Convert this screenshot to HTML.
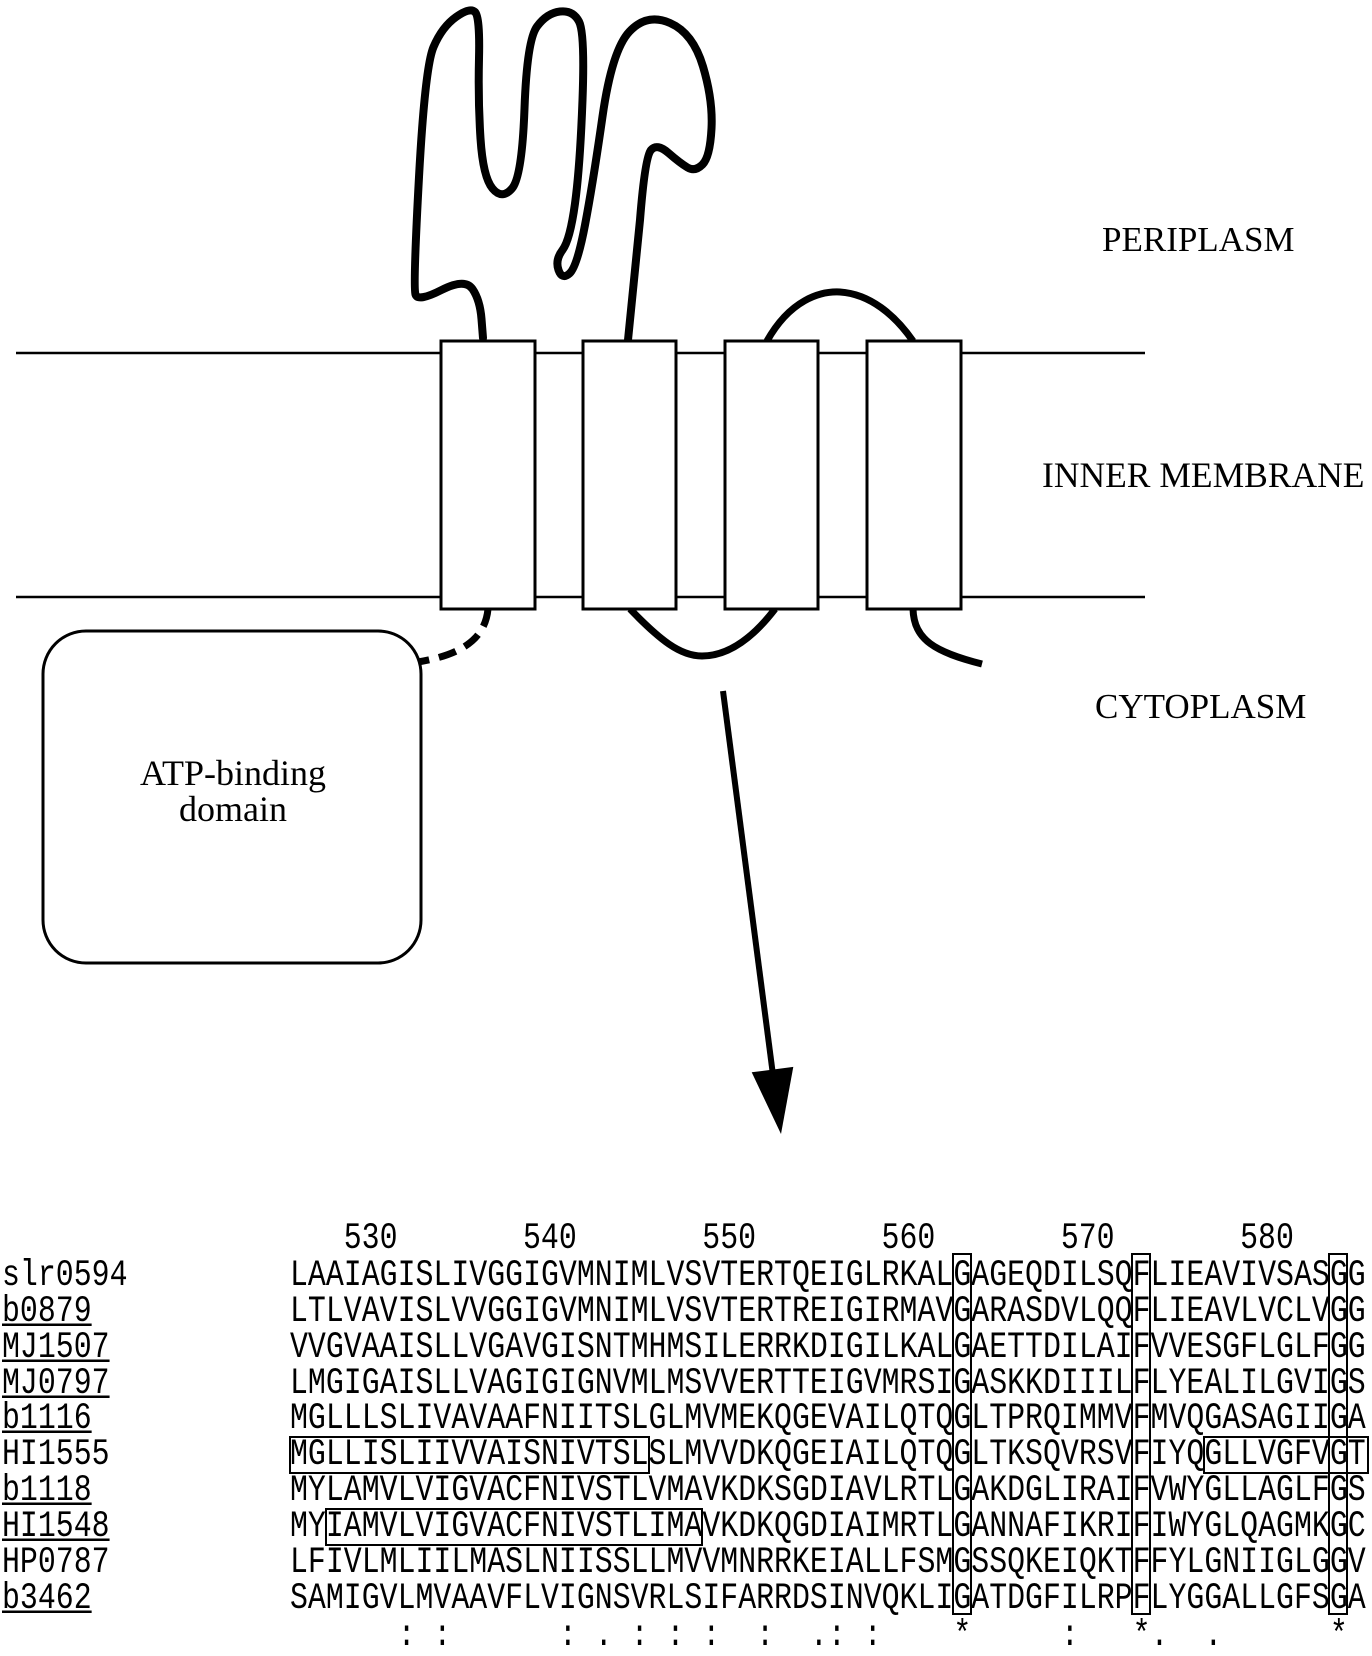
<!DOCTYPE html>
<html><head><meta charset="utf-8"><style>
html,body{margin:0;padding:0;background:#fff;}
#c{position:relative;width:1372px;height:1656px;overflow:hidden;background:#fff;}
.lbl{position:absolute;font-family:"Liberation Serif",serif;font-size:36px;color:#000;white-space:nowrap;}
.row{position:absolute;font-family:"Liberation Mono",monospace;font-size:29.88px;line-height:36px;height:36px;white-space:pre;color:#000;transform:scaleY(1.25);transform-origin:50% 50%;}
.u{text-decoration:underline;text-decoration-thickness:2px;text-underline-offset:2px;}
.bx{position:absolute;border:2.5px solid #000;box-sizing:border-box;}
</style></head><body><div id="c">
<svg width="1372" height="1656" style="position:absolute;left:0;top:0">
<g stroke="#000" fill="none">
<line x1="16" y1="353" x2="1145" y2="353" stroke-width="2.5"/>
<line x1="16" y1="597" x2="1145" y2="597" stroke-width="2.5"/>
<path stroke-width="8" stroke-linecap="round" stroke-linejoin="round" d="M483,338 L481.5,319 Q480,300 472.5,289 Q465,278 441.5,290 Q418,302 415.5,294.5 Q413,287 419,177 Q425,67 433.5,47 Q442,27 456,17 Q470,7 475,12 Q480,17 479,58.5 Q478,100 480.5,138.5 Q483,177 492.5,188.5 Q502,200 512,188.5 Q522,177 524.5,108.5 Q527,40 537,26.5 Q547,13 560,11.5 Q573,10 579,21.5 Q585,33 582.5,100 Q580,167 575,203.5 Q570,240 562.5,250 Q555,260 558.5,270 Q562,280 569.5,273.5 Q577,267 585,225 Q593,183 602.5,116.5 Q612,50 629.5,31.5 Q647,13 670,23 Q693,33 703,66.5 Q713,100 711.5,128.5 Q710,157 702.5,164.5 Q695,172 687.5,167.5 Q680,163 668.5,153 Q657,143 651,150 Q645,157 640,220 L628,340"/>
<path stroke-width="7" d="M767,341 C790,300 820,291 840,292 C870,294 895,315 913,341"/>
<path stroke-width="7" d="M630,609 C660,640 680,656 702,656 C730,656 755,635 775,609"/>
<path stroke-width="7" d="M913,609 C914,640 935,652 982,664"/>
<path stroke-width="7" stroke-dasharray="18,10" d="M488,609 C485,640 460,655 418,662"/>
</g>
<g fill="#fff" stroke="#000" stroke-width="3">
<rect x="441" y="341" width="94" height="268"/>
<rect x="583" y="341" width="93" height="268"/>
<rect x="725" y="341" width="93" height="268"/>
<rect x="867" y="341" width="94" height="268"/>
<rect x="43" y="631" width="378" height="332" rx="43" ry="43"/>
</g>
<line x1="723" y1="691" x2="773" y2="1075" stroke="#000" stroke-width="6"/>
<polygon points="781,1134 793.3,1066.9 751.7,1072.3" fill="#000"/>
</svg>
<div class="lbl" style="left:1102px;top:220px;font-size:35px;">PERIPLASM</div>
<div class="lbl" style="left:1042px;top:454px;font-size:35.5px;">INNER MEMBRANE</div>
<div class="lbl" style="left:1095px;top:687px;font-size:35px;">CYTOPLASM</div>
<div class="lbl" style="left:113px;top:755px;width:240px;text-align:center;line-height:36px;">ATP-binding<br>domain</div>

<div class="row" style="left:272px;top:1220px;">    530       540       550       560       570       580</div>
<div class="row" style="left:2px;top:1257px;">slr0594</div>
<div class="row" style="left:290px;top:1257px;">LAAIAGISLIVGGIGVMNIMLVSVTERTQEIGLRKALGAGEQDILSQFLIEAVIVSASGG</div>
<div class="row u" style="left:2px;top:1293px;">b0879</div>
<div class="row" style="left:290px;top:1293px;">LTLVAVISLVVGGIGVMNIMLVSVTERTREIGIRMAVGARASDVLQQFLIEAVLVCLVGG</div>
<div class="row u" style="left:2px;top:1329px;">MJ1507</div>
<div class="row" style="left:290px;top:1329px;">VVGVAAISLLVGAVGISNTMHMSILERRKDIGILKALGAETTDILAIFVVESGFLGLFGG</div>
<div class="row u" style="left:2px;top:1365px;">MJ0797</div>
<div class="row" style="left:290px;top:1365px;">LMGIGAISLLVAGIGIGNVMLMSVVERTTEIGVMRSIGASKKDIIILFLYEALILGVIGS</div>
<div class="row u" style="left:2px;top:1400px;">b1116</div>
<div class="row" style="left:290px;top:1400px;">MGLLLSLIVAVAAFNIITSLGLMVMEKQGEVAILQTQGLTPRQIMMVFMVQGASAGIIGA</div>
<div class="row" style="left:2px;top:1436px;">HI1555</div>
<div class="row" style="left:290px;top:1436px;">MGLLISLIIVVAISNIVTSLSLMVVDKQGEIAILQTQGLTKSQVRSVFIYQGLLVGFVGT</div>
<div class="row u" style="left:2px;top:1472px;">b1118</div>
<div class="row" style="left:290px;top:1472px;">MYLAMVLVIGVACFNIVSTLVMAVKDKSGDIAVLRTLGAKDGLIRAIFVWYGLLAGLFGS</div>
<div class="row u" style="left:2px;top:1508px;">HI1548</div>
<div class="row" style="left:290px;top:1508px;">MYIAMVLVIGVACFNIVSTLIMAVKDKQGDIAIMRTLGANNAFIKRIFIWYGLQAGMKGC</div>
<div class="row" style="left:2px;top:1544px;">HP0787</div>
<div class="row" style="left:290px;top:1544px;">LFIVLMLIILMASLNIISSLLMVVMNRRKEIALLFSMGSSQKEIQKTFFYLGNIIGLGGV</div>
<div class="row u" style="left:2px;top:1580px;">b3462</div>
<div class="row" style="left:290px;top:1580px;">SAMIGVLMVAAVFLVIGNSVRLSIFARRDSINVQKLIGATDGFILRPFLYGGALLGFSGA</div>
<div class="row" style="left:290px;top:1617px;">      : :      : . : : :  :  .: :    *     :   *.  .      *</div>

<div class="bx" style="left:952px;top:1253px;width:20px;height:362px;"></div>
<div class="bx" style="left:1131px;top:1253px;width:20px;height:362px;"></div>
<div class="bx" style="left:1328px;top:1253px;width:20px;height:362px;"></div>
<div class="bx" style="left:289px;top:1436px;width:361px;height:38px;"></div>
<div class="bx" style="left:1203px;top:1436px;width:166px;height:38px;"></div>
<div class="bx" style="left:325px;top:1508px;width:378px;height:38px;"></div>
</div></body></html>
